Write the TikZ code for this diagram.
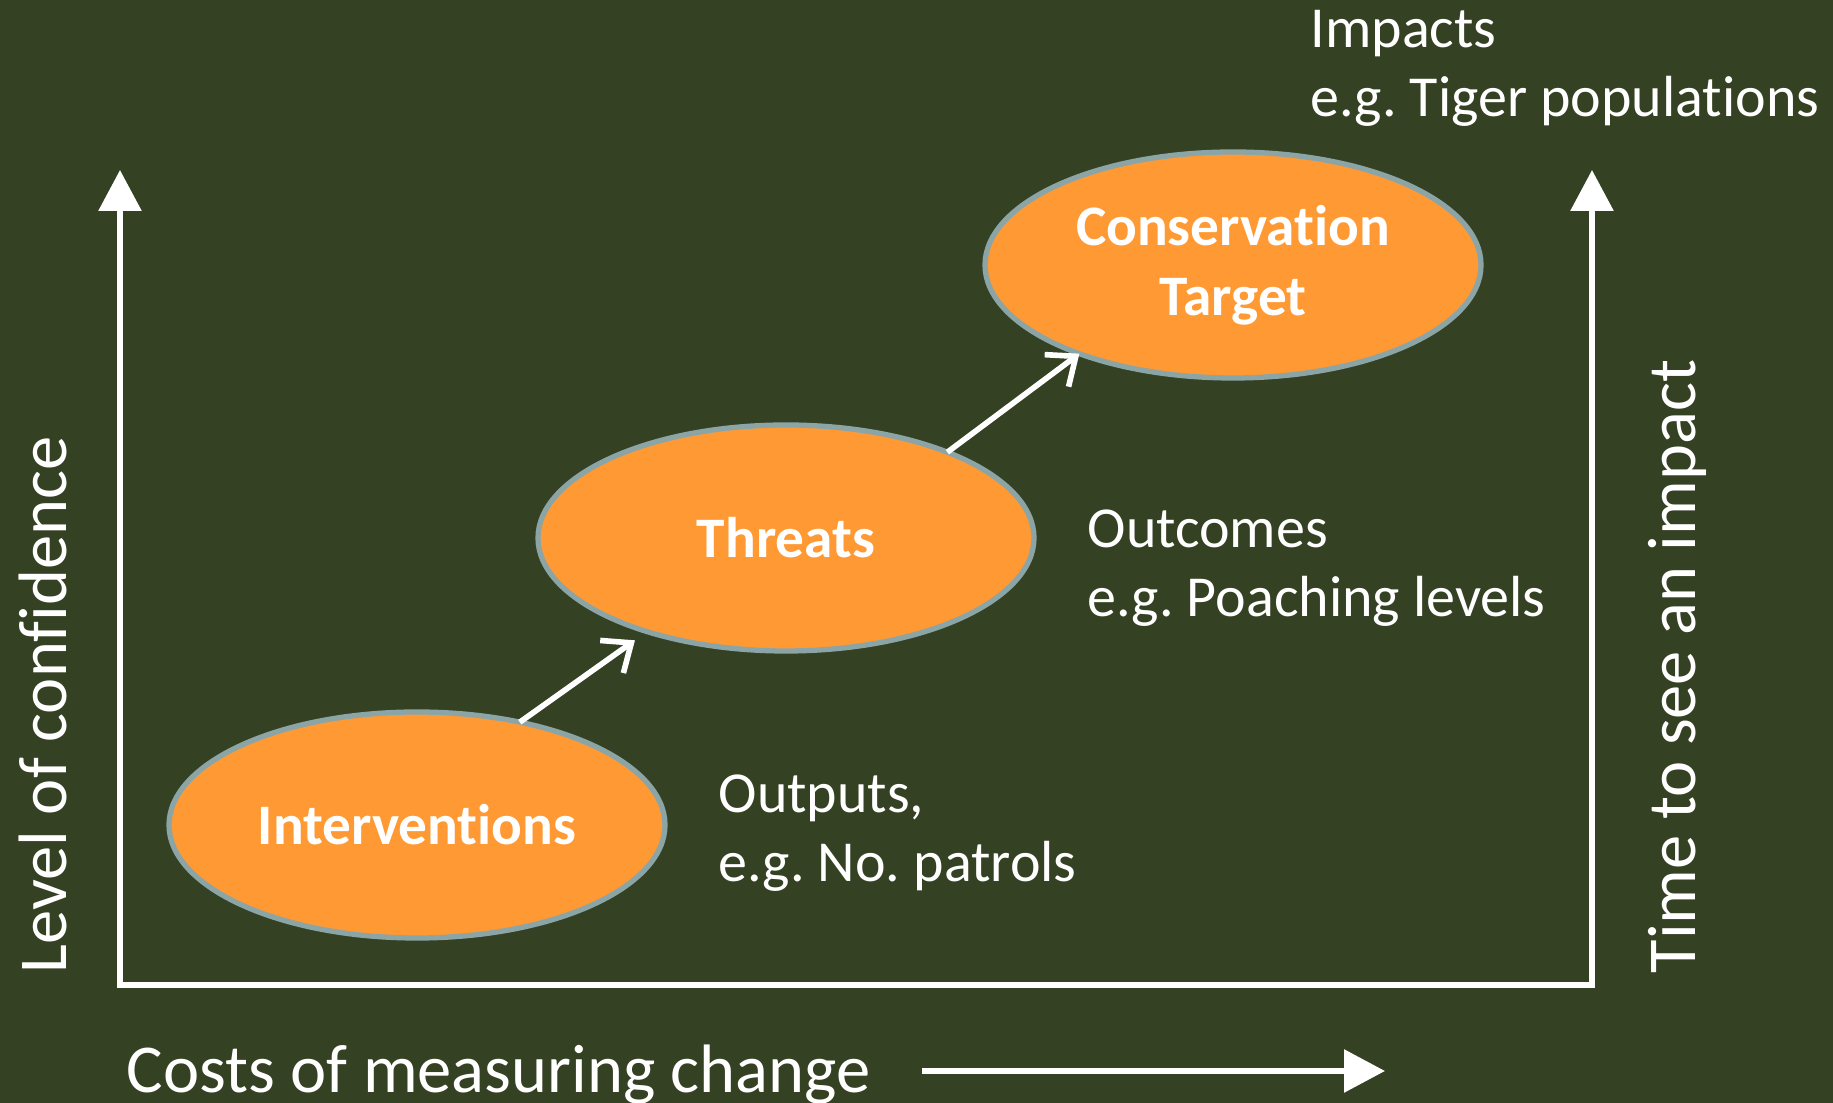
\documentclass[tikz,border=0pt]{standalone}
\usepackage{fontspec}
\setmainfont{Carlito}[Ligatures=NoCommon]
\frenchspacing
\usetikzlibrary{arrows.meta,shapes.geometric}
\definecolor{bgolive}{HTML}{354123}
\definecolor{orng}{HTML}{FF9933}
\definecolor{rim}{HTML}{8BA5A7}
\tikzset{
  ax/.style={{Triangle[length=4.1mm,width=4.2mm]}-{Triangle[length=4.1mm,width=4.2mm]}, line width=1.7pt, white, line join=miter},
  cst/.style={-{Triangle[length=4.1mm,width=4.2mm]}, line width=1.7pt, white},
  lnk/.style={-{Straight Barb[length=2.4mm,width=4mm]}, line width=1.6pt, white},
  stage/.style={ellipse, fill=orng, draw=rim, line width=1.5pt, minimum width=4.96cm, minimum height=2.26cm,
    inner sep=0pt, outer sep=0pt, text=white, align=center, font=\bfseries\fontsize{16.3}{20}\selectfont},
  note/.style={text=white, align=left, inner sep=0pt, font=\fontsize{16.5}{19.8}\selectfont},
  axlbl/.style={text=white, inner sep=0pt, font=\fontsize{19.5}{23}\selectfont},
}

\begin{document}
\begin{tikzpicture}
  \useasboundingbox[fill=bgolive] (0,0) rectangle (18.33,11.03);

  % axes
  \coordinate (ltop) at (1.20,9.33);
  \coordinate (orig) at (1.20,1.18);
  \coordinate (rcor) at (15.92,1.18);
  \coordinate (rtop) at (15.92,9.33);
  \draw[ax] (ltop) -- (orig) -- (rcor) -- (rtop);
  \node[axlbl,rotate=90,anchor=base west] (conf) at (0.67,1.29) {Level of confidence};
  \node[axlbl,rotate=90,anchor=base west] (time) at (16.95,1.29) {Time to see an impact};
  \node[axlbl,anchor=base west] (cost) at (1.26,0.10) {Costs of measuring change};
  \coordinate (cs) at (9.22,0.32);
  \coordinate (ce) at (13.85,0.32);
  \draw[cst] (cs) -- (ce);

  % chain of stages
  \node[stage] (int) at (4.17,2.78) {Interventions};
  \node[stage] (thr) at (7.86,5.65) {Threats};
  \node[stage] (tgt) at (12.33,8.38) {Conservation\\Target\rule[-0.25ex]{0pt}{0pt}};
  \draw[lnk,shorten >=1.5mm] (int.45) -- (thr.214);
  \draw[lnk] (thr.28) -- (tgt.210);

  % what gets measured (base = last line)
  \node[note,anchor=base west] (outp) at (7.18,2.21) {Outputs,\\e.g. No. patrols};
  \node[note,anchor=base west] (outc) at (10.87,4.86) {Outcomes\\e.g. Poaching levels};
  \node[note,anchor=base west] (imp) at (13.10,9.86) {Impacts\\e.g. Tiger populations};
\end{tikzpicture}
\end{document}
